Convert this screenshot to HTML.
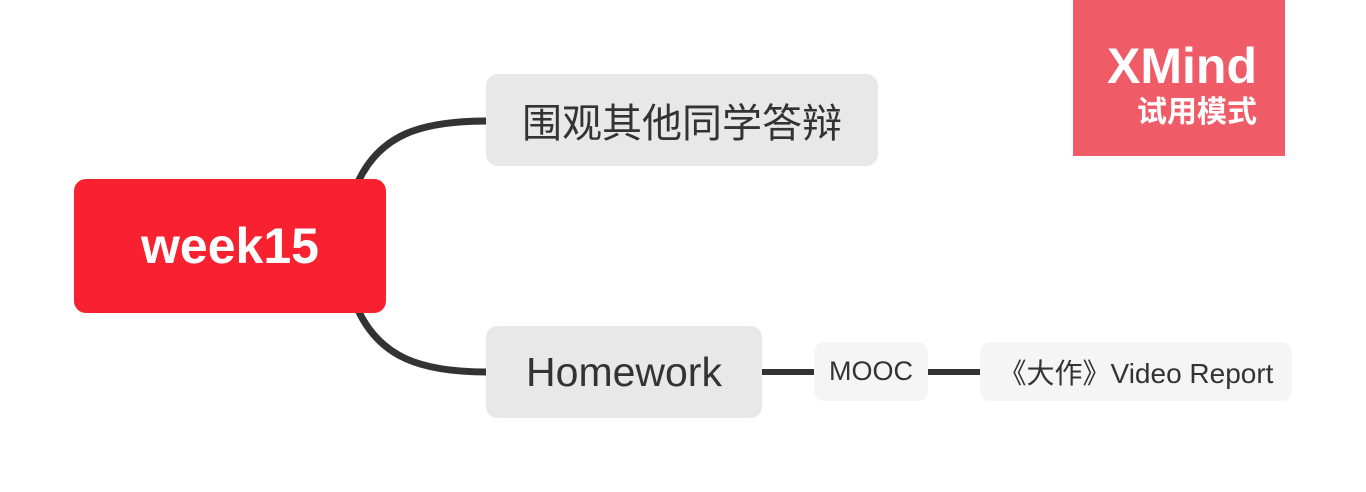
<!DOCTYPE html>
<html><head><meta charset="utf-8"><style>
body{margin:0;width:1366px;height:492px;background:#fff;position:relative;overflow:hidden;font-family:"Liberation Sans","Noto Sans CJK SC",sans-serif}
.n{position:absolute;display:flex;align-items:center;justify-content:center;box-sizing:border-box;white-space:nowrap}
</style></head><body>
<svg width="1366" height="492" style="position:absolute;left:0;top:0">
<path d="M358,182 C380,135 420,121 487,121" fill="none" stroke="#333" stroke-width="7"/>
<path d="M358,310 C380,357 420,372 487,372" fill="none" stroke="#333" stroke-width="7"/>
<line x1="762" y1="372" x2="814" y2="372" stroke="#333" stroke-width="6"/>
<line x1="928" y1="372" x2="980" y2="372" stroke="#333" stroke-width="6"/>
</svg>
<div class="n" style="left:74px;top:179px;width:312px;height:134px;background:#f72130;border-radius:12px;color:#fff;font-size:50px;font-weight:bold">week15</div>
<div class="n" style="left:486px;top:74px;width:392px;height:92px;background:#e8e8e8;border-radius:12px;color:#333;font-size:40px">围观其他同学答辩</div>
<div class="n" style="left:486px;top:326px;width:276px;height:92px;background:#e8e8e8;border-radius:12px;color:#333;font-size:41px">Homework</div>
<div class="n" style="left:814px;top:342px;width:114px;height:59px;background:#f5f5f5;border-radius:10px;color:#333;font-size:27px">MOOC</div>
<div class="n" style="left:980px;top:342px;width:312px;height:59px;background:#f5f5f5;border-radius:10px;color:#333;font-size:28px">《大作》Video Report</div>
<div style="position:absolute;left:1073px;top:0;width:212px;height:156px;background:#ef5b66;color:#fff;text-align:right;box-sizing:border-box;padding-right:28px">
<div style="font-size:50px;font-weight:bold;margin-top:38px;line-height:56px">XMind</div>
<div style="font-size:30px;line-height:38px;font-weight:bold">试用模式</div>
</div>
</body></html>
